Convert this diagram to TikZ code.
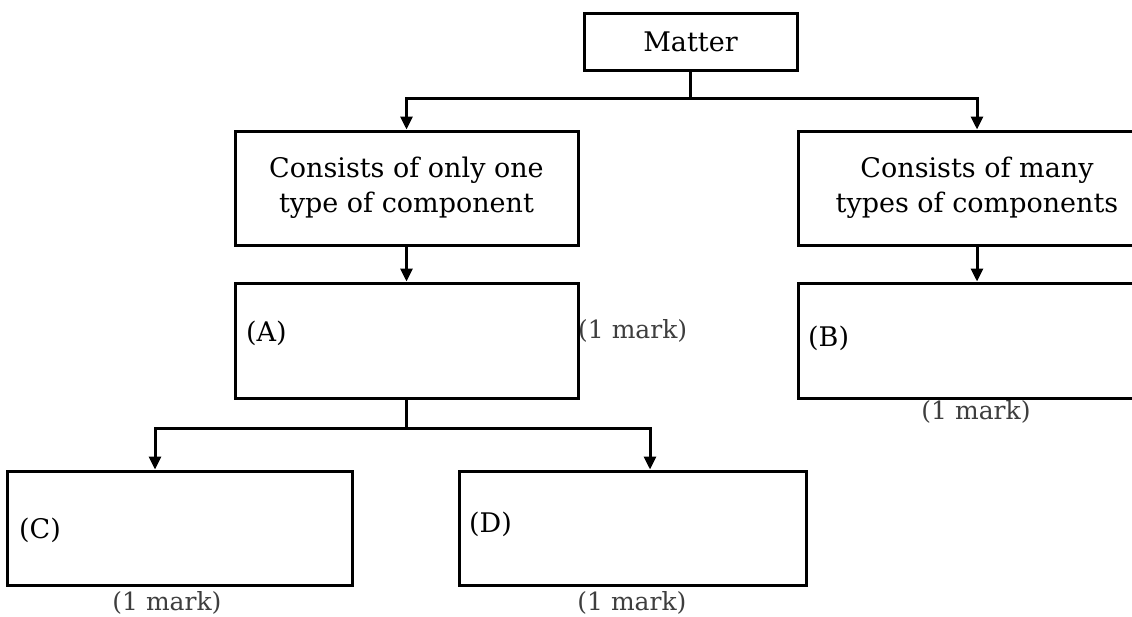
\documentclass[tikz,border=0pt]{standalone}
\usepackage{fontspec}
\setmainfont{DejaVu Serif}
\usetikzlibrary{arrows.meta}
\definecolor{markgray}{RGB}{62,62,62}
\begin{document}
\begin{tikzpicture}[x=1pt,y=-1pt,
  box/.style={draw=black, line width=3pt, rectangle, inner sep=0pt, align=center,
              font=\fontsize{27}{35}\selectfont},
  conn/.style={line width=3pt},
  arr/.style={line width=3pt, -{Triangle[length=13pt,width=12pt]}},
  tag/.style={font=\fontsize{27}{35}\selectfont, inner sep=0pt, anchor=west},
  onemark/.style={font=\fontsize{25}{30}\selectfont, text=markgray, inner sep=0pt}]
\useasboundingbox (0,0) rectangle (1132,616);
\fill[white] (0,0) rectangle (1132,616);
% boxes
\node[box, minimum width=213pt, minimum height=57pt] (matter) at (690.5,41.5) {Matter};
\node[box, minimum width=343pt, minimum height=114pt] (one) at (406.5,188) {Consists of only one\\type of component};
\node[box, minimum width=358pt, minimum height=114pt] (many) at (977,188) {Consists of many\\types of components};
\node[box, minimum width=343pt, minimum height=115pt] (A) at (406.5,340.5) {};
\node[box, minimum width=358pt, minimum height=115pt] (B) at (977,340.5) {};
\node[box, minimum width=345pt, minimum height=114pt] (C) at (179.5,528) {};
\node[box, minimum width=347pt, minimum height=114pt] (D) at (632.5,528) {};
% labels
\node[tag] (lA) at (246,333) {(A)};
\node[tag] (lB) at (808,338) {(B)};
\node[tag] (lC) at (19,530) {(C)};
\node[tag] (lD) at (469,524) {(D)};
\node[onemark, anchor=west] (mA) at (578,331) {(1 mark)};
\node[onemark] (mB) at (976,412) {(1 mark)};
\node[onemark] (mC) at (167,603) {(1 mark)};
\node[onemark] (mD) at (632,603) {(1 mark)};
% connectors
\coordinate (j1) at (690.5,98);
\draw[conn] (matter.south) -- (j1);
\draw[arr] (j1) -| (one.north);
\draw[arr] (j1) -| (many.north);
\draw[arr] (one.south) -- (A.north);
\draw[arr] (many.south) -- (B.north);
\coordinate (j2) at (406.5,428);
\draw[conn] (A.south) -- (j2);
\draw[arr] (j2) -| ([xshift=-24.5pt]C.north);
\draw[arr] (j2) -| ([xshift=17.5pt]D.north);
\end{tikzpicture}
\end{document}
